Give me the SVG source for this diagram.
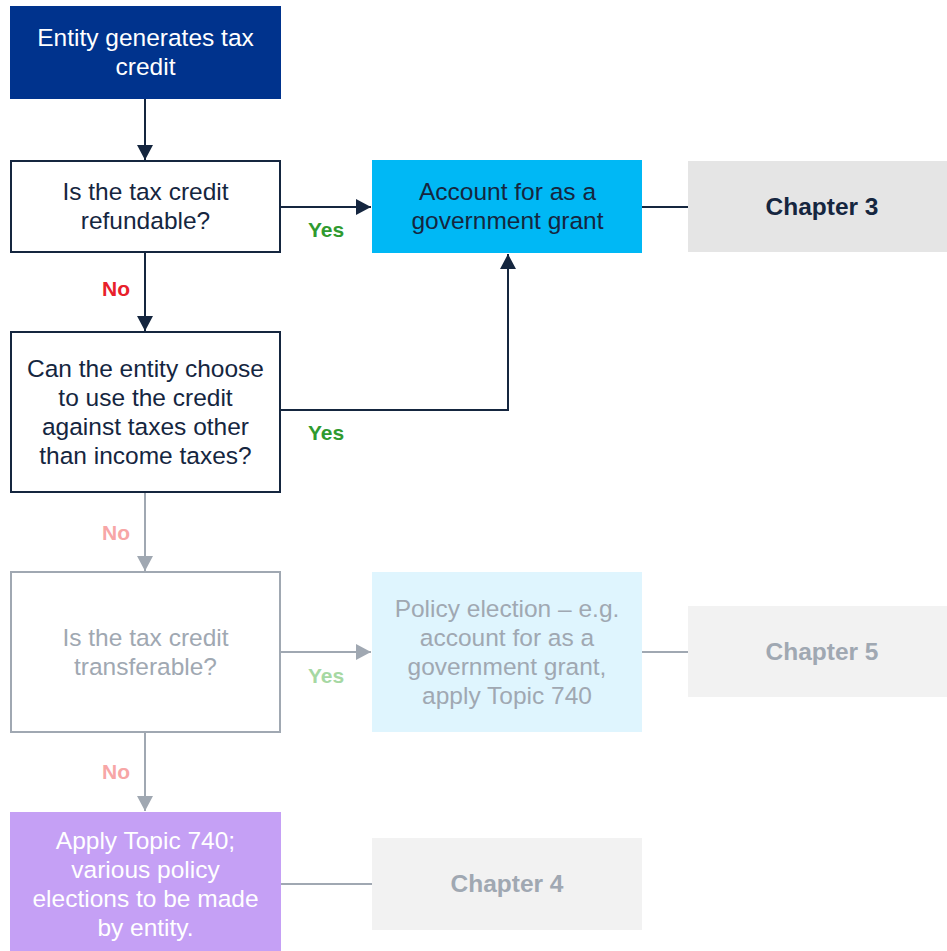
<svg xmlns="http://www.w3.org/2000/svg" width="947" height="951" viewBox="0 0 947 951">
<style>
text{font-family:"Liberation Sans",Arial,sans-serif;font-size:24.5px;text-anchor:middle}
.lbl{font-size:21px;font-weight:bold;text-anchor:middle}
.ch{font-weight:bold}
.dk{stroke:#15263f;stroke-width:2;fill:none}
.gy{stroke:#a0a8b2;stroke-width:2;fill:none}
</style>
<defs>
<marker id="ad" viewBox="0 0 15 16" refX="15" refY="8" markerWidth="15" markerHeight="16" markerUnits="userSpaceOnUse" orient="auto"><path d="M0,0L15,8L0,16z" fill="#15263f"/></marker>
<marker id="ag" viewBox="0 0 15 16" refX="15" refY="8" markerWidth="15" markerHeight="16" markerUnits="userSpaceOnUse" orient="auto"><path d="M0,0L15,8L0,16z" fill="#a0a8b2"/></marker>
</defs>
<rect width="947" height="951" fill="#fff"/>
<g id="connectors">
<path class="dk" d="M145,99V160" marker-end="url(#ad)"/>
<path class="dk" d="M145,252V331" marker-end="url(#ad)"/>
<path class="dk" d="M280,207H371" marker-end="url(#ad)"/>
<path class="dk" d="M280,410H508V254" marker-end="url(#ad)"/>
<path class="dk" d="M642,207H688"/>
<path class="gy" d="M145,492V571" marker-end="url(#ag)"/>
<path class="gy" d="M280,652H371" marker-end="url(#ag)"/>
<path class="gy" d="M642,652H688"/>
<path class="gy" d="M145,732V811" marker-end="url(#ag)"/>
<path class="gy" d="M281,884H372"/>
<text class="lbl" x="116" y="296" fill="#e8202a">No</text>
<text class="lbl" x="326" y="237" fill="#2f9a2f">Yes</text>
<text class="lbl" x="326" y="440" fill="#2f9a2f">Yes</text>
<text class="lbl" x="116" y="540" fill="#f7a6a6">No</text>
<text class="lbl" x="326" y="683" fill="#a6d8a3">Yes</text>
<text class="lbl" x="116" y="779" fill="#f7a6a6">No</text>
</g>
<g id="n1">
<rect x="10" y="6" width="271" height="93" fill="#00338d"/>
<text x="145.5" y="45.5" fill="#fff">Entity generates tax</text>
<text x="145.5" y="74.5" fill="#fff">credit</text>
</g>
<g id="n2">
<rect x="11" y="161" width="269" height="91" fill="#fff" stroke="#15263f" stroke-width="2"/>
<text x="145.5" y="199.5" fill="#15263f">Is the tax credit</text>
<text x="145.5" y="228.5" fill="#15263f">refundable?</text>
</g>
<g id="n3">
<rect x="11" y="332" width="269" height="160" fill="#fff" stroke="#15263f" stroke-width="2"/>
<text x="145.5" y="376.5" fill="#15263f">Can the entity choose</text>
<text x="145.5" y="405.5" fill="#15263f">to use the credit</text>
<text x="145.5" y="434.5" fill="#15263f">against taxes other</text>
<text x="145.5" y="463.5" fill="#15263f">than income taxes?</text>
</g>
<g id="n4">
<rect x="372" y="160" width="270" height="93" fill="#00b8f5"/>
<text x="507.5" y="199.5" fill="#15263f">Account for as a</text>
<text x="507.5" y="228.5" fill="#15263f">government grant</text>
</g>
<g id="n5">
<rect x="688" y="161" width="259" height="91" fill="#e5e5e5"/>
<text class="ch" x="822" y="215" fill="#15263f">Chapter 3</text>
</g>
<g id="n6">
<rect x="11" y="572" width="269" height="160" fill="#fff" stroke="#a0a8b2" stroke-width="2"/>
<text x="145.5" y="645.5" fill="#a0a8b2">Is the tax credit</text>
<text x="145.5" y="674.5" fill="#a0a8b2">transferable?</text>
</g>
<g id="n7">
<rect x="372" y="572" width="270" height="160" fill="#dff5fe"/>
<text x="507" y="616.5" fill="#a0a8b2">Policy election – e.g.</text>
<text x="507" y="645.5" fill="#a0a8b2">account for as a</text>
<text x="507" y="674.5" fill="#a0a8b2">government grant,</text>
<text x="507" y="703.5" fill="#a0a8b2">apply Topic 740</text>
</g>
<g id="n8">
<rect x="688" y="606" width="259" height="91" fill="#f2f2f2"/>
<text class="ch" x="822" y="660" fill="#a0a8b2">Chapter 5</text>
</g>
<g id="n9">
<rect x="10" y="812" width="271" height="139" fill="#c5a0f5"/>
<text x="145.5" y="848.5" fill="#fff">Apply Topic 740;</text>
<text x="145.5" y="877.5" fill="#fff">various policy</text>
<text x="145.5" y="906.5" fill="#fff">elections to be made</text>
<text x="145.5" y="935.5" fill="#fff">by entity.</text>
</g>
<g id="n10">
<rect x="372" y="838" width="270" height="92" fill="#f2f2f2"/>
<text class="ch" x="507" y="892" fill="#a0a8b2">Chapter 4</text>
</g>
</svg>
